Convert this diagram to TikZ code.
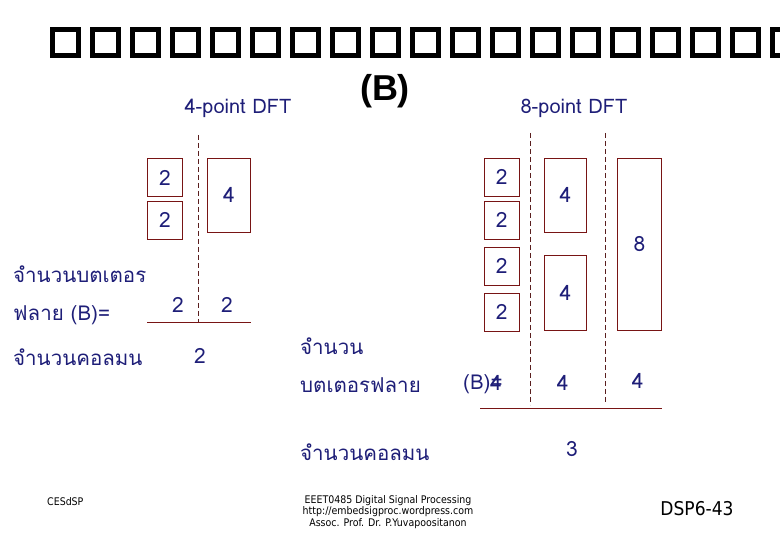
\documentclass[tikz,border=0pt]{standalone}
\usepackage{fontspec}
\setmainfont{Liberation Sans}
\newfontfamily\thaifont[Script=Thai]{Loma}
\newfontfamily\footfont{DejaVu Sans Condensed}
\definecolor{navy}{RGB}{30,30,120}
\definecolor{boxred}{RGB}{120,20,20}
\definecolor{dashred}{RGB}{90,30,30}
\tikzset{
  glyphbox/.style={draw=black,line width=5pt},
  cell/.style={draw=boxred,line width=0.9pt,inner sep=0pt,text=navy,font=\thaifont\fontsize{21}{21}\selectfont},
  num/.style={inner sep=0pt,text=navy,font=\thaifont\fontsize{21}{21}\selectfont},
  thai/.style={inner sep=0pt,anchor=west,text=navy,font=\thaifont\fontsize{20.5}{22}\selectfont},
  head/.style={inner sep=0pt,text=navy,font=\thaifont\fontsize{20}{20}\selectfont},
  divider/.style={draw=dashred,line width=0.9pt,dash pattern=on 5pt off 3pt},
  baseline/.style={draw=boxred,line width=1pt},
  foot/.style={inner sep=0pt,text=black,font=\footfont\fontsize{10.5}{9.2}\selectfont,align=center}
}
\begin{document}
\begin{tikzpicture}[x=1pt,y=-1pt]
\useasboundingbox (0,0) rectangle (780,540);
\fill[white] (0,0) rectangle (780,540);
\begin{scope}
\clip (0,0) rectangle (780,540);
\foreach \i in {0,...,18} \draw[glyphbox] ({52.5+40*\i},29.5) rectangle ++(26,26);
\end{scope}
% headings
\node[inner sep=0pt,font=\bfseries\fontsize{36}{36}\selectfont] (bttl) at (385,91) {(B)};
\node[head] (h4) at (238,108) {4-point DFT};
\node[head] (h8) at (574,108) {8-point DFT};
% 4-point section
\node[cell,minimum width=35.4pt,minimum height=38.4pt] (a1) at (165,177.5) {2};
\node[cell,minimum width=35.4pt,minimum height=38.4pt] (a2) at (165,220.2) {2};
\node[cell,minimum width=43.4pt,minimum height=74pt] (a3) at (229,195.3) {4};
\coordinate (d1t) at (198,135);
\coordinate (d1b) at (198,322.7);
\draw[divider] (d1t) -- (d1b);
\coordinate (l1a) at (147,322.7);
\coordinate (l1b) at (251,322.7);
\draw[baseline] (l1a) -- (l1b);
\node[num] (b1) at (178,305) {2};
\node[num] (b2) at (227,305) {2};
\node[num] (c1) at (200,356) {2};
\node[thai] (t1) at (13,274) {จำนวนบตเตอร};
\node[thai] (t2) at (13,315) {ฟลาย (B)=};
\node[thai] (t3) at (13,357) {จำนวนคอลมน};
% 8-point section
\node[cell,minimum width=35pt,minimum height=38pt] (s1) at (501.8,177.2) {2};
\node[cell,minimum width=35pt,minimum height=38pt] (s2) at (501.8,220.2) {2};
\node[cell,minimum width=35pt,minimum height=38pt] (s3) at (501.8,266.3) {2};
\node[cell,minimum width=35pt,minimum height=38pt] (s4) at (501.8,312.3) {2};
\node[cell,minimum width=42.4pt,minimum height=74pt] (m1) at (565.5,195.3) {4};
\node[cell,minimum width=42.4pt,minimum height=75pt] (m2) at (565.5,292.8) {4};
\node[cell,minimum width=44.4pt,minimum height=172pt] (g1) at (639.5,244.3) {8};
\coordinate (d2t) at (530.7,133);
\coordinate (d2b) at (530.7,405);
\coordinate (d3t) at (605,133);
\coordinate (d3b) at (605,403);
\draw[divider] (d2t) -- (d2b);
\draw[divider] (d3t) -- (d3b);
\coordinate (l2a) at (480,408.3);
\coordinate (l2b) at (661.7,408.3);
\draw[baseline] (l2a) -- (l2b);
\node[thai] (u1) at (300,346) {จำนวน};
\node[thai] (u2) at (300,385) {บตเตอรฟลาย};
\node[thai] (u3) at (300,452) {จำนวนคอลมน};
\node[thai] (bq) at (463,384) {(B)=};
\node[num] (e1) at (496,383) {4};
\node[num] (e2) at (562.7,383) {4};
\node[num] (e3) at (637.7,381) {4};
\node[num] (f1) at (572,449) {3};
% footer
\node[foot,anchor=west] (cf) at (47,502) {CESdSP};
\node[foot] (cc) at (388,512) {EEET0485 Digital Signal Processing\\http://embedsigproc.wordpress.com\\Assoc. Prof. Dr. P.Yuvapoositanon};
\node[inner sep=0pt,font=\footfont\fontsize{19}{19}\selectfont] (dsp) at (697,509) {DSP6-43};
\end{tikzpicture}
\end{document}
